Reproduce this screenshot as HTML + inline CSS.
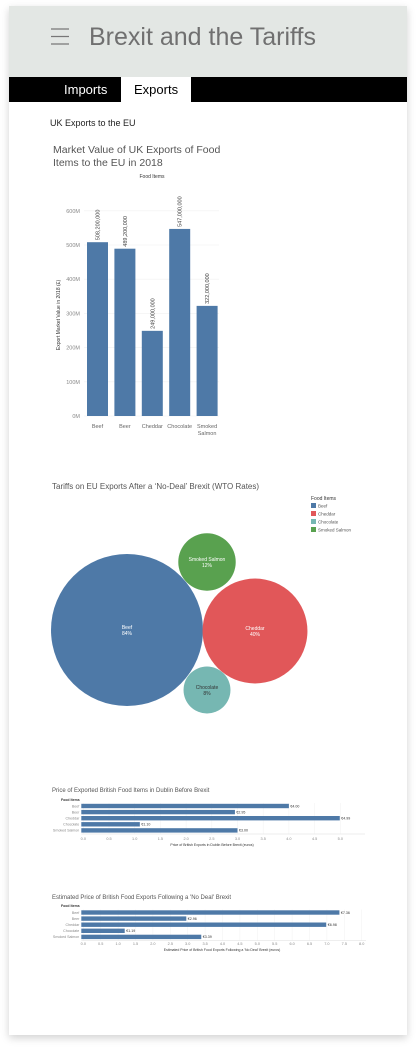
<!DOCTYPE html>
<html><head><meta charset="utf-8">
<style>
html,body{margin:0;padding:0;background:#fff;width:416px;height:1047px;overflow:hidden;font-family:"Liberation Sans",sans-serif;}
#card{position:absolute;left:9px;top:6px;width:398px;height:1029px;background:#fff;box-shadow:0 3px 8px rgba(0,0,0,0.18);}
svg text{font-family:"Liberation Sans",sans-serif;}
</style></head>
<body>
<div id="card"></div>
<svg id="main" width="416" height="1047" style="position:absolute;left:0;top:0">
  <rect x="9" y="6" width="398" height="71" fill="#e3e7e4"/>
  <g stroke="#777" stroke-width="1.3">
    <line x1="51" y1="29" x2="69" y2="29"/><line x1="51" y1="36.5" x2="69" y2="36.5"/><line x1="51" y1="44" x2="69" y2="44"/>
  </g>
  <text x="89" y="45" font-size="25" fill="#707070">Brexit and the Tariffs</text>
  <rect x="9" y="77" width="398" height="25" fill="#000"/>
  <text x="64" y="94" font-size="13" fill="#fff">Imports</text>
  <rect x="121" y="77" width="70" height="25" fill="#fff"/>
  <text x="134" y="94" font-size="13" fill="#000">Exports</text>
  <text x="50" y="126" font-size="9" fill="#222">UK Exports to the EU</text>

  <g id="barchart">
    <text x="53" y="153" font-size="10.5" fill="#555">Market Value of UK Exports of Food</text>
    <text x="53" y="166" font-size="10.5" fill="#555">Items to the EU in 2018</text>
    <text x="152" y="178" font-size="5" fill="#333" text-anchor="middle">Food Items</text>
    <text transform="translate(60,315) rotate(-90)" font-size="5" fill="#333" text-anchor="middle">Export Market Value in 2018 (£)</text>
  </g>

  <g id="bubbles">
    <text x="52" y="489" font-size="8" fill="#555">Tariffs on EU Exports After a ‘No-Deal’ Brexit (WTO Rates)</text>
    <text x="311" y="500" font-size="5" fill="#333">Food Items</text>
  </g>

  <g id="hbar1">
    <text x="52" y="792" font-size="6" fill="#555">Price of Exported British Food Items in Dublin Before Brexit</text>
    <text x="61" y="801" font-size="3.5" fill="#333" font-weight="bold">Food Items</text>
    <text x="212" y="846" font-size="3.5" fill="#333" text-anchor="middle">Price of British Exports in Dublin Before Brexit (euros)</text>
  </g>
  <g id="hbar2">
    <text x="52" y="899" font-size="6" fill="#555">Estimated Price of British Food Exports Following a 'No Deal' Brexit</text>
    <text x="61" y="907" font-size="3.5" fill="#333" font-weight="bold">Food Items</text>
    <text x="222" y="951" font-size="3.5" fill="#333" text-anchor="middle">Estimated Price of British Food Exports Following a 'No Deal' Brexit (euros)</text>
  </g>
</svg>
<script>
const NS='http://www.w3.org/2000/svg';
function mk(parent,tag,attrs,txt){const e=document.createElementNS(NS,tag);for(const k in attrs)e.setAttribute(k,attrs[k]);if(txt!==undefined)e.textContent=txt;parent.appendChild(e);return e;}

// Bar chart data
const barCategories=['Beef','Beer','Cheddar','Chocolate','Smoked Salmon'];
const barValues=[508200000,489200000,249000000,547000000,322000000];
const barLabels=['508,200,000','489,200,000','249,000,000','547,000,000','322,000,000'];
const barTicks=[0,100,200,300,400,500,600];

// Bubble data
const bubbleCategories=['Beef','Cheddar','Chocolate','Smoked Salmon'];
const bubbleValues=[84,40,8,12];
const bubbleColors=['#4e79a7','#e15759','#76b7b2','#59a14f'];

// Horizontal bar data
const hCategories=['Beef','Beer','Cheddar','Chocolate','Smoked Salmon'];
const priceBefore=[4.00,2.95,4.99,1.10,3.00];
const priceBeforeLabels=['€4.00','€2.95','€4.99','€1.10','€3.00'];
const priceAfter=[7.36,2.96,6.98,1.19,3.39];
const priceAfterLabels=['€7.36','€2.96','€6.98','€1.19','€3.39'];
const ticksBefore=[0,0.5,1,1.5,2,2.5,3,3.5,4,4.5,5];
const ticksAfter=[0,0.5,1,1.5,2,2.5,3,3.5,4,4.5,5,5.5,6,6.5,7,7.5,8];

// --- vertical bar chart
(function(){
  const g=document.getElementById('barchart');
  const y0=416, pxPerM=34.2/100;
  const yS=v=>y0-v/1e6*pxPerM;
  const xL=87, step=27.4, bw=21;
  barTicks.forEach(t=>{
    const y=y0-t*pxPerM;
    const l=mk(g,'line',{x1:84,x2:219,y1:y,y2:y,stroke:'#f0f0f0','stroke-width':0.6});
    
    
    const tx=mk(g,'text',{x:80,y:y+2,'font-size':5.5,fill:'#888','text-anchor':'end'},t+'M');
    
    
  });
  barValues.forEach((v,i)=>{
    const x=xL+i*step, y=yS(v);
    const r=mk(g,'rect',{x:x,y:y,width:bw,height:y0-y,fill:'#4e79a7'});
    
    
    const t=mk(g,'text',{transform:`translate(${x+bw/2+2},${y-2}) rotate(-90)`,'font-size':5.5,fill:'#444'},barLabels[i]);
    
    
    const words=barCategories[i].split(' ');
    words.forEach((w,j)=>{
      const c=mk(g,'text',{x:x+bw/2,y:428+j*7,'font-size':5.5,fill:'#666','text-anchor':'middle'},w);
      
      
    });
  });
})();

// --- bubble chart
(function(){
  const g=document.getElementById('bubbles');
  const centers=[[127,630],[255,631],[207,690],[207,562]];
  const k=76/Math.sqrt(84);
  bubbleValues.forEach((v,i)=>{
    const r=k*Math.sqrt(v);
    const c=mk(g,'circle',{cx:centers[i][0],cy:centers[i][1],r:r,fill:bubbleColors[i]});
    
    
    const col=i===2?'#333':'#fff';
    const t1=mk(g,'text',{x:centers[i][0],y:centers[i][1]-1,'font-size':5,fill:col,'text-anchor':'middle'},bubbleCategories[i]);
    
    
    const t2=mk(g,'text',{x:centers[i][0],y:centers[i][1]+5,'font-size':5,fill:col,'text-anchor':'middle'},v+'%');
    
    
    const sw=mk(g,'rect',{x:311,y:503+i*8,width:5,height:5,fill:bubbleColors[i]});
    
    
    const lt=mk(g,'text',{x:318,y:507.5+i*8,'font-size':4.5,fill:'#555'},bubbleCategories[i]);
    
    
  });
})();

// --- horizontal bars
function hbar(id,vals,labels,ticks,x0,pxPerUnit,rowY,tickY,gridEnd){
  const g=document.getElementById(id);
  ticks.forEach(t=>{
    const x=x0+t*pxPerUnit;
    const l=mk(g,'line',{x1:x,x2:x,y1:rowY-3,y2:rowY+28,stroke:'#f2f2f2','stroke-width':0.5});
    
    
    const tx=mk(g,'text',{x:x,y:tickY,'font-size':3.8,fill:'#888','text-anchor':'middle'},t.toFixed(1));
    
    
  });
  const bl=mk(g,'line',{x1:x0-2,x2:gridEnd,y1:rowY+28,y2:rowY+28,stroke:'#ddd','stroke-width':0.5});
  
  
  vals.forEach((v,i)=>{
    const y=rowY+i*6.1;
    const r=mk(g,'rect',{x:x0-2,y:y-2.2,width:v*pxPerUnit+2,height:4.4,fill:'#4e79a7'});
    
    
    const c=mk(g,'text',{x:x0-4,y:y+1.3,'font-size':3.6,fill:'#888','text-anchor':'end'},hCategories[i]);
    
    
    const lt=mk(g,'text',{x:x0+v*pxPerUnit+1.5,y:y+1.3,'font-size':3.6,fill:'#333'},labels[i]);
    
    
  });
}
hbar('hbar1',priceBefore,priceBeforeLabels,ticksBefore,83.3,51.4,806,840,365);
hbar('hbar2',priceAfter,priceAfterLabels,ticksAfter,83.3,34.8,912.5,945,366);
</script>
</body></html>
